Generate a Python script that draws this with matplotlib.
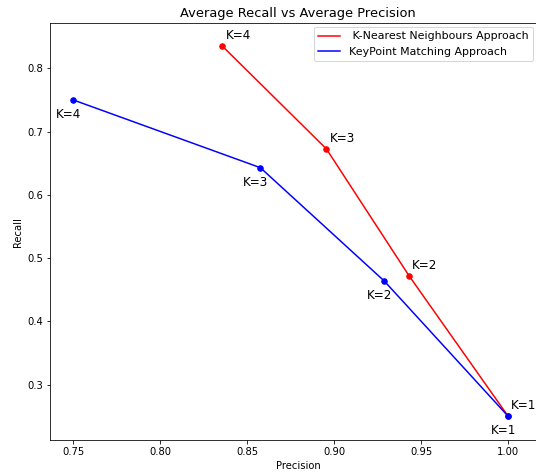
import matplotlib
matplotlib.use("Agg")
import matplotlib.pyplot as plt

# data
k_labels = ['K=1', 'K=2', 'K=3', 'K=4']
knn_precision = [1.0, 0.943, 0.8955, 0.8357]
knn_recall = [0.25, 0.472, 0.6725, 0.835]
kp_precision = [1.0, 0.9287, 0.8575, 0.75]
kp_recall = [0.25, 0.464, 0.643, 0.75]

W, H = 536, 474
fig = plt.figure(figsize=(W / 72.0, H / 72.0), dpi=72)
# axes runs past the right edge, as in the reference (right spine cut off)
x0, x1 = 50, 546
ax = fig.add_axes([x0 / W, (H - 440.3) / H, (x1 - x0) / W, (440.3 - 23.3) / H])
ax.spines['right'].set_visible(False)

ax.plot(knn_precision, knn_recall, '-', color='red', label=' K-Nearest Neighbours Approach')
ax.plot(knn_precision, knn_recall, 'o', color='red', markersize=5.5)
ax.plot(kp_precision, kp_recall, '-', color='blue', label='KeyPoint Matching Approach')
ax.plot(kp_precision, kp_recall, 'o', color='blue', markersize=5.5)

# labels next to each point
for x, y, k in zip(knn_precision, knn_recall, k_labels):
    ax.annotate(k, (x, y), xytext=(3, 4), textcoords='offset points',
                ha='left', va='bottom', fontsize=12)
for x, y, k in zip(kp_precision, kp_recall, k_labels):
    ax.annotate(k, (x, y), xytext=(-17, -8), textcoords='offset points',
                ha='left', va='top', fontsize=12)

# 0.75 -> 73.3px, 1740 px per unit
ax.set_xlim(0.75 - (73.3 - x0) / 1740, 0.75 + (x1 - 73.3) / 1740)
ax.set_ylim(0.2123, 0.8711)
ax.set_xticks([0.75, 0.80, 0.85, 0.90, 0.95, 1.00])
ax.set_yticks([0.3, 0.4, 0.5, 0.6, 0.7, 0.8])
ax.set_title('Average Recall vs Average Precision', fontsize=13)
ax.set_xlabel('Precision')
ax.set_ylabel('Recall')
ax.legend(loc='upper right', fontsize=11, bbox_to_anchor=(533 / W, (H - 27) / H),
          bbox_transform=fig.transFigure, borderaxespad=0)

fig.savefig('out.png', dpi=72)
